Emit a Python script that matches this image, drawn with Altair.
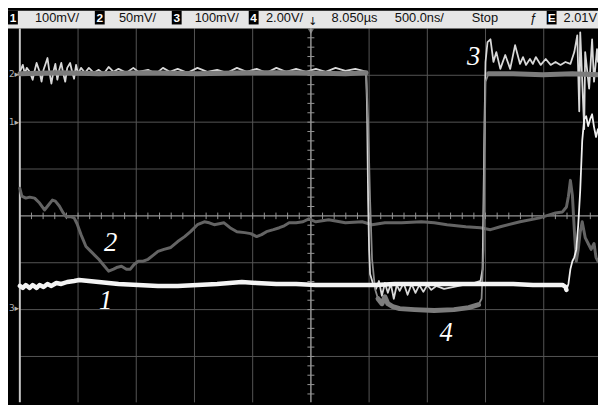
import altair as alt
import pandas as pd
import numpy as np

# ------------------------------------------------------------------
# Oscilloscope record.
# time  : screen divisions from centre (500.0 ns/div)
# level : screen divisions from centre
# ------------------------------------------------------------------
ch1_t = [-5.000, -4.949, -4.898, -4.831, -4.780, -4.712, -4.661, -4.593, -4.525, -4.458,
         -4.373, -4.288, -4.186, -4.068, -3.983, -3.814, -3.644, -3.475, -3.305, -2.966,
         -2.627, -2.288, -1.949, -1.610, -1.186, -0.932, -0.593, -0.254, 0.085, 0.424,
         0.763, 1.102, 1.441, 1.780, 2.119, 2.458, 2.797, 3.136, 3.475, 3.814,
         4.153, 4.322, 4.373, 4.390, 4.424, 4.458, 4.492, 4.525, 4.559, 4.593,
         4.627, 4.661, 4.695, 4.729, 4.763, 4.797, 4.831, 4.864, 4.898, 4.932]
ch1_v = [-1.495, -1.537, -1.474, -1.537, -1.474, -1.537, -1.474, -1.516, -1.453, -1.495,
         -1.432, -1.453, -1.411, -1.389, -1.368, -1.389, -1.411, -1.432, -1.453, -1.474,
         -1.495, -1.495, -1.474, -1.453, -1.411, -1.432, -1.453, -1.453, -1.474, -1.474,
         -1.474, -1.474, -1.453, -1.453, -1.453, -1.453, -1.453, -1.453, -1.453, -1.474,
         -1.474, -1.474, -1.516, -1.579, -1.453, -1.137, -0.968, -0.884, -0.716, -0.189,
         0.547, 1.600, 2.063, 2.126, 1.916, 2.063, 2.168, 1.895, 1.684, 1.853]

ch2_t = [-5.000, -4.966, -4.898, -4.831, -4.746, -4.661, -4.576, -4.508, -4.441, -4.390,
         -4.322, -4.254, -4.203, -4.119, -4.068, -4.017, -3.949, -3.864, -3.780, -3.712,
         -3.644, -3.559, -3.475, -3.390, -3.322, -3.254, -3.169, -3.102, -3.034, -2.966,
         -2.881, -2.797, -2.712, -2.627, -2.525, -2.407, -2.288, -2.169, -2.068, -1.949,
         -1.831, -1.746, -1.661, -1.576, -1.492, -1.390, -1.271, -1.136, -1.034, -0.932,
         -0.847, -0.763, -0.644, -0.542, -0.458, -0.373, -0.254, -0.136, -0.034, 0.085,
         0.305, 0.593, 0.881, 1.051, 1.271, 1.559, 1.898, 2.119, 2.339, 2.661,
         2.915, 3.085, 3.254, 3.593, 3.932, 4.203, 4.322, 4.390, 4.424, 4.458,
         4.492, 4.525, 4.559, 4.593, 4.627, 4.661, 4.712, 4.763, 4.814, 4.864,
         4.898, 4.932]
ch2_v = [0.589, 0.421, 0.379, 0.400, 0.379, 0.274, 0.126, 0.232, 0.337, 0.316,
         0.211, 0.063, -0.021, -0.021, -0.042, -0.168, -0.400, -0.653, -0.758, -0.842,
         -0.926, -1.053, -1.179, -1.137, -1.095, -1.074, -1.137, -1.137, -1.032, -0.968,
         -0.968, -0.926, -0.842, -0.758, -0.716, -0.674, -0.547, -0.442, -0.337, -0.189,
         -0.126, -0.147, -0.189, -0.168, -0.147, -0.253, -0.337, -0.358, -0.379, -0.442,
         -0.400, -0.337, -0.295, -0.253, -0.211, -0.147, -0.147, -0.126, -0.063, -0.126,
         -0.084, -0.147, -0.126, -0.189, -0.147, -0.147, -0.126, -0.147, -0.189, -0.232,
         -0.253, -0.295, -0.232, -0.126, -0.042, 0.063, 0.084, 0.189, 0.421, 0.758,
         0.442, -0.295, -0.968, -0.716, -0.337, -0.126, -0.463, -0.589, -0.716, -0.589,
         -0.884, -0.968]

ch3_t = [-5.000, -4.949, -4.915, -4.881, -4.831, -4.780, -4.746, -4.712, -4.661, -4.627,
         -4.593, -4.559, -4.525, -4.492, -4.458, -4.424, -4.390, -4.356, -4.322, -4.288,
         -4.254, -4.220, -4.186, -4.136, -4.102, -4.068, -4.034, -4.000, -3.949, -3.881,
         -3.814, -3.729, -3.644, -3.559, -3.475, -3.390, -3.305, -3.169, -3.051, -2.966,
         -2.797, -2.661, -2.542, -2.424, -2.288, -2.119, -1.949, -1.780, -1.610, -1.441,
         -1.271, -1.102, -0.932, -0.763, -0.593, -0.424, -0.254, -0.085, 0.085, 0.254,
         0.424, 0.593, 0.763, 0.898, 0.949, 0.966, 0.983, 1.000, 1.017, 1.068,
         1.119, 1.169, 1.220, 1.271, 1.322, 1.373, 1.424, 1.475, 1.525, 1.593,
         1.661, 1.729, 1.797, 1.864, 1.932, 2.000, 2.068, 2.153, 2.288, 2.458,
         2.627, 2.797, 2.915, 2.949, 2.966, 2.983, 3.000, 3.034, 3.085, 3.136,
         3.186, 3.254, 3.339, 3.424, 3.508, 3.593, 3.644, 3.695, 3.763, 3.814,
         3.864, 3.949, 4.034, 4.119, 4.203, 4.288, 4.373, 4.458, 4.525, 4.576,
         4.610, 4.627, 4.695, 4.712, 4.780, 4.831, 4.864, 4.915, 4.932]
ch3_v = [3.074, 3.221, 3.032, 3.158, 3.074, 2.905, 3.095, 3.263, 3.074, 2.863,
         3.116, 3.242, 3.368, 3.074, 2.821, 3.074, 3.242, 2.905, 3.116, 3.263,
         3.032, 2.863, 3.158, 3.263, 3.074, 2.926, 3.221, 3.032, 3.158, 3.053,
         3.158, 3.053, 3.116, 3.032, 3.179, 3.074, 3.137, 3.053, 3.158, 3.074,
         3.116, 3.032, 3.158, 3.074, 3.137, 3.053, 3.158, 3.074, 3.116, 3.053,
         3.158, 3.074, 3.137, 3.053, 3.158, 3.074, 3.137, 3.074, 3.137, 3.074,
         3.158, 3.095, 3.137, 3.095, 3.074, 2.232, 0.337, -0.716, -1.242, -1.453,
         -1.558, -1.389, -1.705, -1.432, -1.642, -1.453, -1.768, -1.474, -1.600, -1.432,
         -1.684, -1.453, -1.642, -1.474, -1.621, -1.474, -1.579, -1.495, -1.558, -1.516,
         -1.474, -1.432, -1.389, -1.137, 0.337, 2.021, 3.284, 3.705, 3.768, 3.284,
         3.495, 3.137, 3.432, 3.137, 3.642, 3.242, 3.389, 3.221, 3.347, 3.242,
         3.389, 3.221, 3.347, 3.221, 3.284, 3.221, 3.284, 3.242, 3.495, 3.853,
         2.232, 3.916, 1.853, 3.495, 2.716, 3.768, 2.863, 3.558, 3.284]

ch4_t = [-5.000, -4.322, -3.644, -2.797, -1.949, -1.102, -0.254, 0.593, 0.949, 0.983,
         1.017, 1.051, 1.102, 1.153, 1.220, 1.271, 1.322, 1.407, 1.525, 1.780,
         2.119, 2.458, 2.712, 2.881, 2.932, 2.966, 2.983, 3.000, 3.051, 3.475,
         3.983, 4.492, 4.932]
ch4_v = [3.032, 3.053, 3.032, 3.053, 3.032, 3.053, 3.053, 3.032, 3.053, 2.021,
         0.337, -0.926, -1.558, -1.768, -1.874, -1.726, -1.874, -1.937, -1.979, -2.000,
         -2.021, -2.000, -1.958, -1.895, -1.768, -0.716, 1.389, 2.863, 3.032, 3.032,
         3.011, 3.032, 3.011]

trace_labels = ["1", "2", "3", "4"]
trace_label_t = [-3.525, -3.441, 2.797, 2.322]
trace_label_v = [-1.811, -0.589, 3.389, -2.505]

header_badges = ["1", "2", "3", "4", "E"]
header_texts = ["100mV/", "50mV/", "100mV/", "2.00V/", "8.050µs", "500.0ns/", "Stop", "ƒ", "2.01V"]

# ------------------------------------------------------------------
W, H = 598, 397
T_MIN, T_MAX = -5.2034, 4.9322
V_MIN, V_MAX = -3.9789, 4.3789
xs = alt.Scale(domain=[T_MIN, T_MAX], nice=False, zero=False)
ys = alt.Scale(domain=[V_MIN, V_MAX], nice=False, zero=False)


def X(f):
    return alt.X(f, type="quantitative", scale=xs, axis=None)


def Y(f):
    return alt.Y(f, type="quantitative", scale=ys, axis=None)


one = pd.DataFrame({"a": [0]})
layers = []


def vrules(ts, top, bottom, color, width):
    df = pd.DataFrame({"t": ts, "v": [top] * len(ts), "v2": [bottom] * len(ts)})
    return alt.Chart(df).mark_rule(color=color, strokeWidth=width).encode(x=X("t"), y=Y("v"), y2="v2")


def hrules(vs, left, right, color, width):
    df = pd.DataFrame({"v": vs, "t": [left] * len(vs), "t2": [right] * len(vs)})
    return alt.Chart(df).mark_rule(color=color, strokeWidth=width).encode(y=Y("v"), x=X("t"), x2="t2")


# graticule
layers.append(vrules([-4, -3, -2, -1, 1, 2, 3, 4], 4.0, V_MIN, "#555555", 1))
layers.append(hrules([-3, -2, -1, 1, 2, 3], -5.0, T_MAX, "#555555", 1))
# centre axes with minor ticks
layers.append(vrules([0.0], 4.0, V_MIN, "#959595", 1.5))
layers.append(hrules([0.0], -5.0, T_MAX, "#959595", 1.5))
ht = [round(v, 2) for v in np.arange(-4.8, 4.95, 0.2)]
layers.append(vrules(ht, 0.07, -0.07, "#959595", 1))
vt = [round(v, 2) for v in np.arange(-3.8, 3.95, 0.2)]
layers.append(hrules(vt, -0.06, 0.06, "#959595", 1))
# left border
layers.append(vrules([-5.0], 4.0, V_MIN, "#c8c8c8", 2))


def trace_df(t, v):
    return pd.DataFrame({"t": t, "v": v, "i": list(range(len(t)))})


def trace(t, v, color, width):
    return (alt.Chart(trace_df(t, v)).mark_line(color=color, strokeWidth=width, strokeJoin="round",
                                                strokeCap="round", clip=True)
            .encode(x=X("t"), y=Y("v"), order="i:Q"))


def trace_band(t, v, color, width, seg_expr):
    # thicker band on the settled (flat) parts of a trace
    return (alt.Chart(trace_df(t, v))
            .transform_calculate(seg=seg_expr)
            .transform_filter("datum.seg >= 0")
            .mark_line(color=color, strokeWidth=width, strokeJoin="round", strokeCap="round", clip=True)
            .encode(x=X("t"), y=Y("v"), order="i:Q", detail="seg:N"))


layers.append(trace(ch2_t, ch2_v, "#646464", 3))
layers.append(trace(ch3_t, ch3_v, "#d8d8d8", 1.8))
layers.append(trace(ch4_t, ch4_v, "#8a8a8a", 1.8))
layers.append(trace_band(ch4_t, ch4_v, "#7c7c7c", 5,
                         "datum.t < 0.96 ? 0 : (datum.t > 1.12 && datum.t < 2.9 ? 1 : (datum.t > 3.03 ? 2 : -1))"))
layers.append(trace(ch1_t, ch1_v, "#f0f0f0", 1.8))
layers.append(trace_band(ch1_t, ch1_v, "#f4f4f4", 4.5, "datum.t < 4.4 ? 0 : -1"))

# trace labels
layers.append(alt.Chart(pd.DataFrame({"t": trace_label_t, "v": trace_label_v, "s": trace_labels}))
              .mark_text(font="Liberation Serif", fontStyle="italic", fontSize=27, color="#ffffff",
                         baseline="middle")
              .encode(x=X("t"), y=Y("v"), text="s:N"))

# ground markers at the left
for lab, py in [("2", 64), ("1", 113), ("3", 301)]:
    layers.append(alt.Chart(one).mark_text(text=lab + "▸", fontSize=9, color="#b0b0b0", align="left",
                                           baseline="middle", font="DejaVu Sans")
                  .encode(x=alt.value(1), y=alt.value(py)))

# trigger marker
layers.append(alt.Chart(one).mark_point(shape="triangle-down", filled=True, color="#a0a0a0", size=40)
              .encode(x=alt.value(307), y=alt.value(21)))

# header bar
layers.append(alt.Chart(one).mark_rect(color="#e6e6e6")
              .encode(x=alt.value(0), x2=alt.value(W), y=alt.value(0), y2=alt.value(18)))
badge_x = [5, 93, 171, 249, 551]
for lab, bx in zip(header_badges, badge_x):
    layers.append(alt.Chart(one).mark_rect(color="#000000")
                  .encode(x=alt.value(bx - 5), x2=alt.value(bx + 5), y=alt.value(0), y2=alt.value(14)))
    layers.append(alt.Chart(one).mark_text(text=lab, color="#ffffff", fontSize=12, fontWeight="bold",
                                           font="Liberation Sans", align="center", baseline="alphabetic")
                  .encode(x=alt.value(bx), y=alt.value(12)))
text_x = [72, 150, 234, 299, 328, 392, 470, 529, 597]
text_align = ["right"] * 4 + ["left"] * 4 + ["right"]
for s, tx, al in zip(header_texts, text_x, text_align):
    layers.append(alt.Chart(one).mark_text(text=s, color="#111111", fontSize=13, align=al,
                                           baseline="alphabetic", font="Liberation Sans")
                  .encode(x=alt.value(tx), y=alt.value(12)))
layers.append(alt.Chart(one).mark_text(text="↓", color="#111111", fontSize=11, align="center",
                                       baseline="alphabetic", font="DejaVu Sans")
              .encode(x=alt.value(309), y=alt.value(15)))

chart = (alt.layer(*layers)
         .properties(width=W, height=H, padding=0, background="#000000",
                     autosize=alt.AutoSizeParams(type="none"))
         .configure_view(stroke=None, fill="#000000"))

chart.save("out.html", embed_options={"renderer": "svg", "actions": False})
